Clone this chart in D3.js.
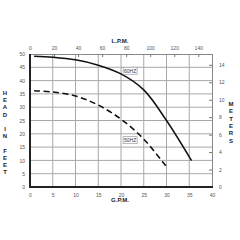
<!DOCTYPE html>
<html><head><meta charset="utf-8">
<script src="https://cdn.jsdelivr.net/npm/d3@7"></script>
<style>body{margin:0;background:#fff}svg{display:block}</style>
</head><body>
<svg id="c" width="240" height="240"></svg>
<script>
const gpmTicks = [0,5,10,15,20,25,30,35,40];
const feetTicks = [0,5,10,15,20,25,30,35,40,45,50];
const lpmTicks = [0,20,40,60,80,100,120,140];
const meterTicks = [0,2,4,6,8,10,12,14];
const curve60gpm = [0.9,5,10,15,20,25,30,35.5];
const curve60ft  = [49.2,48.8,47.8,45.8,42.5,36.5,25,9.9];
const curve50gpm = [0.9,5,10,15,20,25,30];
const curve50ft  = [36.2,35.7,34.2,30.8,25.5,18,7.6];
const seriesLabels = ["60HZ","50HZ"];
const leftTitle = ["H","E","A","D","","I","N","","F","E","E","T"];
const rightTitle = ["M","E","T","E","R","S"];

const svg = d3.select("#c");
const L=30,R=212,T=54,B=187;
const x = d3.scaleLinear().domain([0,40]).range([L,R]);
const y = d3.scaleLinear().domain([0,50]).range([B,T]);
const xL = d3.scaleLinear().domain([0,40*3.785411784]).range([L,R]);
const yM = d3.scaleLinear().domain([0,50*0.3048]).range([B,T]);

const grid = svg.append("g").attr("stroke","#a8a8a8").attr("stroke-width",1);
gpmTicks.filter(d=>d>0&&d<40).forEach(d=>grid.append("line").attr("x1",x(d)).attr("x2",x(d)).attr("y1",T).attr("y2",B));
feetTicks.filter(d=>d>0&&d<50).forEach(d=>grid.append("line").attr("x1",L).attr("x2",R).attr("y1",y(d)).attr("y2",y(d)));
svg.append("line").attr("x1",L).attr("x2",R).attr("y1",T+0.5).attr("y2",T+0.5).attr("stroke","#888");
svg.append("line").attr("x1",R+0.5).attr("x2",R+0.5).attr("y1",T).attr("y2",B).attr("stroke","#888");

const fs = "5px", ff = "Arial, 'Liberation Sans', sans-serif", tc="#555";
function styleAxis(g){
  g.select(".domain").remove();
  g.selectAll("text").attr("font-size",fs).attr("font-family",ff).attr("fill",tc);
  g.selectAll("line").attr("stroke","#777");
}
svg.append("g").attr("transform",`translate(${L-2},0)`)
  .call(d3.axisLeft(y).tickValues(feetTicks).tickSize(0).tickPadding(3)).call(styleAxis);
svg.append("g").attr("transform",`translate(0,${B+2})`)
  .call(d3.axisBottom(x).tickValues(gpmTicks).tickSize(0).tickPadding(4)).call(styleAxis);
svg.append("g").attr("transform",`translate(0,${T})`)
  .call(d3.axisTop(xL).tickValues(lpmTicks).tickSizeInner(-3).tickSizeOuter(0).tickPadding(4)).call(styleAxis);
svg.append("g").attr("transform",`translate(${R},0)`)
  .call(d3.axisRight(yM).tickValues(meterTicks).tickSizeInner(-3).tickSizeOuter(0).tickPadding(7)).call(styleAxis);

svg.append("line").attr("x1",L).attr("x2",L).attr("y1",T).attr("y2",B).attr("stroke","#222").attr("stroke-width",2);
svg.append("line").attr("x1",L-1).attr("x2",R+1).attr("y1",B).attr("y2",B).attr("stroke","#222").attr("stroke-width",2);

const line = d3.line().x(d=>x(d[0])).y(d=>y(d[1])).curve(d3.curveCatmullRom.alpha(0.5));
svg.append("path").datum(d3.zip(curve60gpm,curve60ft)).attr("d",line)
  .attr("fill","none").attr("stroke","#111").attr("stroke-width",1.5);
svg.append("path").datum(d3.zip(curve50gpm,curve50ft)).attr("d",line)
  .attr("fill","none").attr("stroke","#111").attr("stroke-width",1.6).attr("stroke-dasharray","6,3.5");

function tag(t,cx,cy){
  svg.append("rect").attr("x",cx-7).attr("y",cy-3.5).attr("width",14).attr("height",7)
    .attr("fill","#fff").attr("stroke","#999").attr("stroke-width",0.7);
  svg.append("text").attr("x",cx).attr("y",cy+1.8).attr("text-anchor","middle")
    .attr("font-size","5px").attr("font-family",ff).attr("fill","#333").text(t);
}
tag(seriesLabels[0], x(22), y(43.7));
tag(seriesLabels[1], x(22), y(17.6));

const tf = {size:"6px",w:"bold",c:"#222"};
svg.append("text").attr("x",120).attr("y",43).attr("text-anchor","middle")
  .attr("font-size",tf.size).attr("font-weight",tf.w).attr("font-family",ff).attr("fill",tf.c).text("L.P.M.");
svg.append("text").attr("x",120).attr("y",202).attr("text-anchor","middle")
  .attr("font-size",tf.size).attr("font-weight",tf.w).attr("font-family",ff).attr("fill",tf.c).text("G.P.M.");
leftTitle.forEach((ch,i)=>svg.append("text").attr("x",5).attr("y",95+i*7.2).attr("text-anchor","middle")
  .attr("font-size",tf.size).attr("font-weight",tf.w).attr("font-family",ff).attr("fill",tf.c).text(ch));
rightTitle.forEach((ch,i)=>svg.append("text").attr("x",231).attr("y",106+i*7.3).attr("text-anchor","middle")
  .attr("font-size",tf.size).attr("font-weight",tf.w).attr("font-family",ff).attr("fill",tf.c).text(ch));
</script>
</body></html>
